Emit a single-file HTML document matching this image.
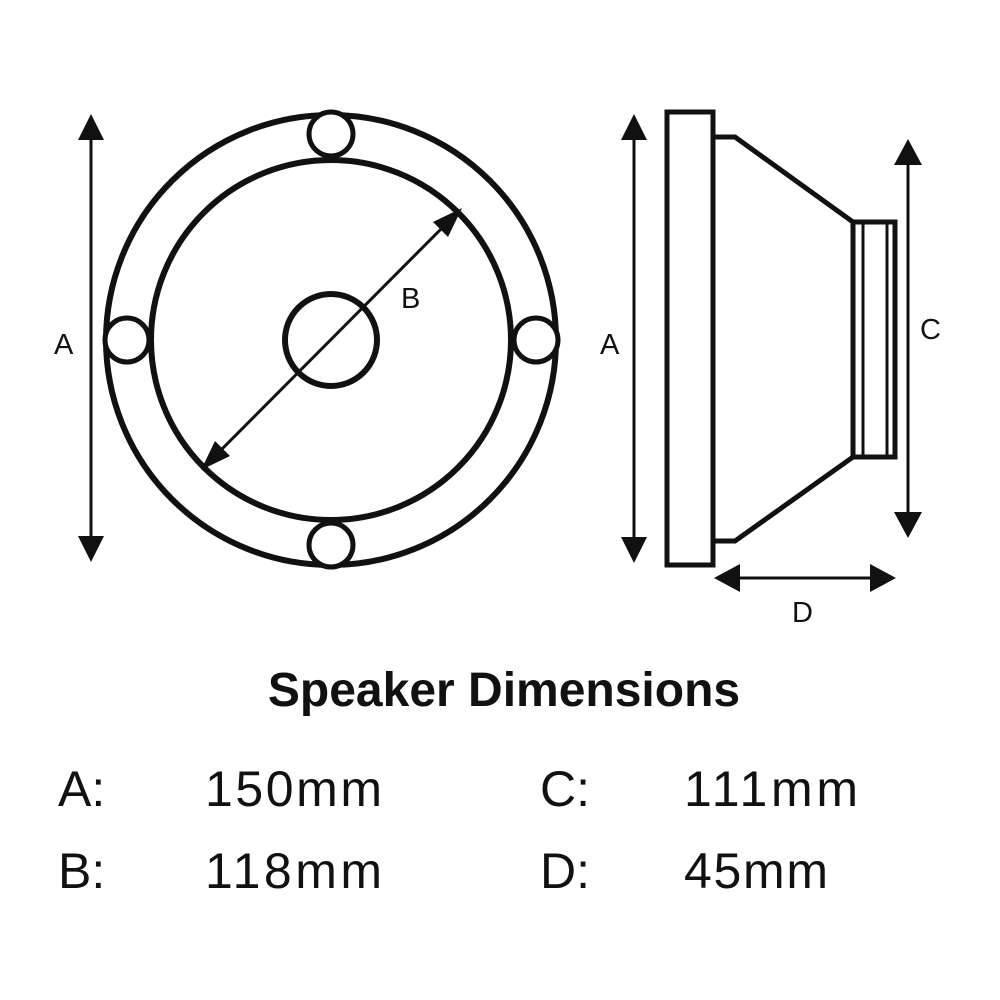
<!DOCTYPE html>
<html><head><style>
html,body{margin:0;padding:0;background:#fff;}
svg{display:block}
text{font-family:"Liberation Sans",sans-serif;fill:#111}
</style></head><body>
<svg width="1000" height="1000" viewBox="0 0 1000 1000" xmlns="http://www.w3.org/2000/svg">
<g fill="none" stroke="#111" stroke-width="6">
<circle cx="331" cy="340" r="225"/>
<circle cx="331" cy="340" r="180"/>
<circle cx="331" cy="340" r="46"/>
</g>
<g fill="#fff" stroke="#111" stroke-width="5">
<circle cx="331" cy="134" r="22"/>
<circle cx="331" cy="545" r="22"/>
<circle cx="127" cy="340" r="22"/>
<circle cx="536" cy="340" r="22"/>
</g>
<line x1="91" y1="130" x2="91" y2="545" stroke="#111" stroke-width="3"/>
<polygon points="91,114 78,140 104,140" fill="#111"/>
<polygon points="91,562 78,536 104,536" fill="#111"/>
<line x1="448" y1="222" x2="215" y2="456" stroke="#111" stroke-width="3"/>
<polygon points="462,208 433,222 448,237" fill="#111"/>
<polygon points="201,470 230,456 215,441" fill="#111"/>
<g fill="none" stroke="#111" stroke-width="5">
<rect x="667" y="112" width="46" height="453"/>
<polyline points="713,137 735,137 853,222"/>
<polyline points="713,541 735,541 853,457"/>
<rect x="853" y="222" width="42" height="235"/>
</g>
<line x1="863" y1="222" x2="863" y2="457" stroke="#111" stroke-width="3"/>
<line x1="887" y1="222" x2="887" y2="457" stroke="#111" stroke-width="3"/>
<line x1="634" y1="130" x2="634" y2="545" stroke="#111" stroke-width="3"/>
<polygon points="634,114 621,140 647,140" fill="#111"/>
<polygon points="634,563 621,537 647,537" fill="#111"/>
<line x1="908" y1="155" x2="908" y2="522" stroke="#111" stroke-width="3"/>
<polygon points="908,139 894,165 922,165" fill="#111"/>
<polygon points="908,538 894,512 922,512" fill="#111"/>
<line x1="730" y1="578" x2="880" y2="578" stroke="#111" stroke-width="3"/>
<polygon points="714,578 740,564 740,592" fill="#111"/>
<polygon points="896,578 870,564 870,592" fill="#111"/>
<g font-size="29">
<text x="54" y="354">A</text>
<text x="401" y="308">B</text>
<text x="600" y="354">A</text>
<text x="920" y="339">C</text>
<text x="792" y="622">D</text>
</g>
<text x="504" y="706" font-size="48" font-weight="bold" text-anchor="middle">Speaker Dimensions</text>
<g font-size="50">
<text x="58" y="806">A:</text>
<text x="205" y="806" textLength="177">150mm</text>
<text x="540" y="806">C:</text>
<text x="684" y="806" textLength="174">111mm</text>
<text x="58" y="888">B:</text>
<text x="205" y="888" textLength="177">118mm</text>
<text x="540" y="888">D:</text>
<text x="684" y="888" textLength="144">45mm</text>
</g>
</svg>
</body></html>
